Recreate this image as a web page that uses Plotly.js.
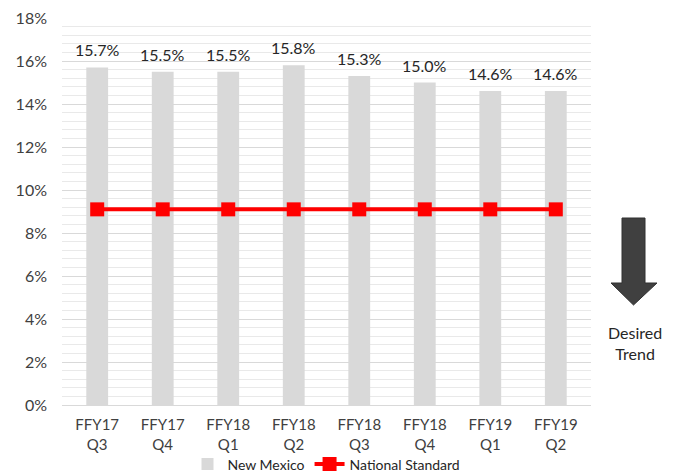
<!DOCTYPE html>
<html>
<head>
<meta charset="utf-8">
<script src="https://cdn.plot.ly/plotly-3.0.1.min.js"></script>
<style>html,body{margin:0;padding:0;background:#fff;}#chart{width:677px;height:472px;}</style>
</head>
<body>
<div id="chart"></div>
<script>
const categories = ["FFY17<br>Q3","FFY17<br>Q4","FFY18<br>Q1","FFY18<br>Q2","FFY18<br>Q3","FFY18<br>Q4","FFY19<br>Q1","FFY19<br>Q2"];
const newMexico = [0.157, 0.155, 0.155, 0.158, 0.153, 0.150, 0.146, 0.146];
const nationalStandard = [0.091, 0.091, 0.091, 0.091, 0.091, 0.091, 0.091, 0.091];

const font = "Lato, 'Open Sans', sans-serif";

const traces = [
  {
    type: 'bar', name: 'New Mexico', x: categories, y: newMexico,
    marker: {color: '#d9d9d9'}, hoverinfo: 'skip'
  },
  {
    type: 'scatter', mode: 'lines+markers', name: 'National Standard',
    x: categories, y: nationalStandard,
    line: {color: '#ff0000', width: 4},
    marker: {symbol: 'square', size: 14, color: '#ff0000'}
  }
];

const annotations = categories.map((c, i) => ({
  x: c, y: newMexico[i], xref: 'x', yref: 'y',
  text: (newMexico[i] * 100).toFixed(1) + '%',
  showarrow: false, yanchor: 'bottom', yshift: 6,
  font: {family: font, size: 16, color: '#262626'}
}));
annotations.push({
  xref: 'paper', yref: 'paper', x: 1.084, y: (405 - 343) / 387,
  text: 'Desired<br>Trend', showarrow: false, xanchor: 'center', yanchor: 'middle',
  font: {family: font, size: 16, color: '#262626'}
});

function px(x) { return (x - 62) / 529; }
function py(y) { return (405 - y) / 387; }

const arrowPath = 'M ' + px(622) + ' ' + py(218) + ' L ' + px(645) + ' ' + py(218) +
  ' L ' + px(645) + ' ' + py(283) + ' L ' + px(657) + ' ' + py(283) +
  ' L ' + px(633.5) + ' ' + py(305) + ' L ' + px(611) + ' ' + py(283) +
  ' L ' + px(622) + ' ' + py(283) + ' Z';

const layout = {
  width: 677, height: 472,
  margin: {l: 62, r: 86, t: 18, b: 67},
  paper_bgcolor: '#fff', plot_bgcolor: '#fff',
  font: {family: font, size: 16, color: '#404040'},
  bargap: 0.667,
  showlegend: true,
  legend: {orientation: 'h', xref: 'paper', yref: 'container', x: 0.5, xanchor: 'center',
           y: 0.016, yanchor: 'middle', bgcolor: 'rgba(0,0,0,0)',
           font: {family: font, size: 14, color: '#262626'}, itemwidth: 30, tracegroupgap: 0},
  xaxis: {
    showgrid: false, zeroline: false, showline: false, ticks: '', automargin: false,
    ticklabelstandoff: 9,
    tickfont: {family: font, size: 15, color: '#404040'}
  },
  yaxis: {
    range: [0, 0.18], dtick: 0.02, tickformat: '.0%', automargin: false,
    ticklabelstandoff: 14,
    gridcolor: '#d9d9d9', gridwidth: 1, zeroline: true, zerolinecolor: '#d9d9d9', zerolinewidth: 1,
    showline: false, ticks: '',
    minor: {dtick: 0.004, showgrid: true, gridcolor: '#e9e9e9', gridwidth: 1},
    tickfont: {family: font, size: 16, color: '#404040'}
  },
  annotations: annotations,
  shapes: [{type: 'path', xref: 'paper', yref: 'paper', path: arrowPath,
            fillcolor: '#404040', line: {color: '#303030', width: 1}}]
};

Plotly.newPlot('chart', traces, layout, {displayModeBar: false, staticPlot: true});
</script>
</body>
</html>
